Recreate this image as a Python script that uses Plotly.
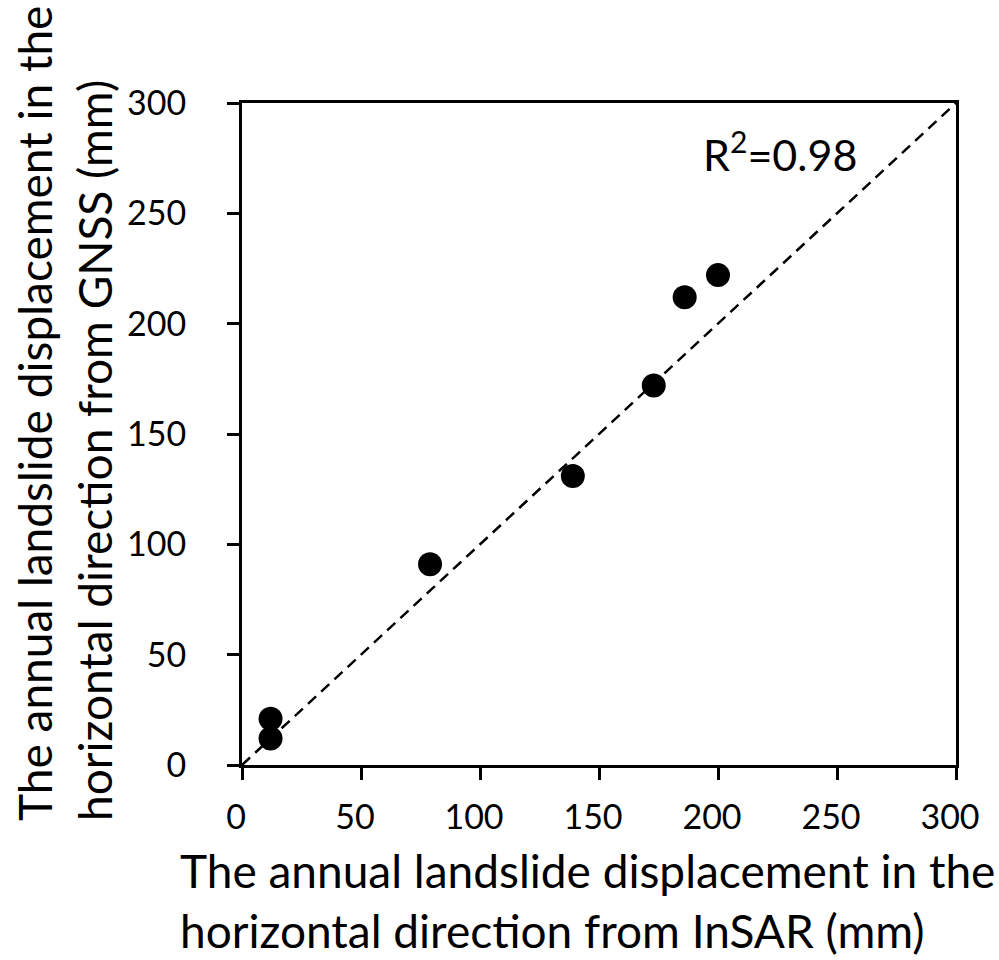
import plotly.graph_objects as go

insar = [12, 12, 79, 139, 173, 186, 200]
gnss = [21, 12, 91, 131, 172, 212, 222]
line_x = [0, 300]
line_y = [0, 300]
ticks = [0, 50, 100, 150, 200, 250, 300]

FONT = "Lato"
fig = go.Figure()
fig.add_trace(go.Scatter(x=line_x, y=line_y, mode="lines",
                         line=dict(color="black", width=2.5, dash="11px,7px"),
                         hoverinfo="skip", showlegend=False))
fig.add_trace(go.Scatter(x=insar, y=gnss, mode="markers",
                         marker=dict(color="black", size=24), showlegend=False))

axis_common = dict(range=[0, 300], tickvals=ticks, showgrid=False, zeroline=False,
                   showline=True, linecolor="black", linewidth=3, mirror=True,
                   ticks="outside", ticklen=12, tickwidth=2.5, tickcolor="black",
                   tickfont=dict(family=FONT, size=34, color="black"))
fig.update_xaxes(**axis_common, ticklabelstandoff=8, ticklabelshift=-6)
fig.update_yaxes(**axis_common, ticklabelstandoff=34)

fig.add_annotation(text="The annual landslide displacement in the<br>horizontal direction from InSAR (mm)",
                   xref="paper", yref="paper", x=-0.09, y=-0.115, xanchor="left", yanchor="top",
                   align="left", showarrow=False, font=dict(family=FONT, size=46, color="black"))
fig.add_annotation(text="The annual landslide displacement in the<br>horizontal direction from GNSS (mm)",
                   xref="paper", yref="paper", x=-0.332, y=-0.0876, xanchor="left", yanchor="bottom",
                   align="left", textangle=-90, showarrow=False,
                   font=dict(family=FONT, size=46, color="black"))
fig.add_annotation(text="R<sup>2</sup>=0.98", x=226, y=278, xanchor="center", yanchor="middle",
                   showarrow=False, font=dict(family=FONT, size=43, color="black"))

fig.update_layout(width=999, height=960, margin=dict(l=242, r=43, t=103, b=195),
                  plot_bgcolor="white", paper_bgcolor="white")
fig.write_html("out.html")
